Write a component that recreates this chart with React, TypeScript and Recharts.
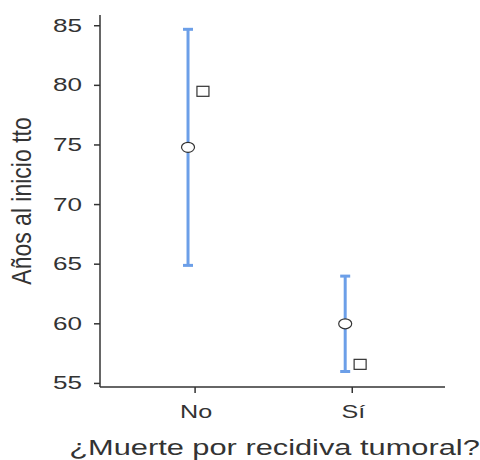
import { ComposedChart, Scatter, ErrorBar, XAxis, YAxis } from 'recharts';

// Años al inicio del tratamiento según muerte por recidiva tumoral
const groups = ['No', 'Sí'];
const meanValues = [74.8, 60.0];
const lowerValues = [64.9, 56.0];
const upperValues = [84.7, 64.0];
const squareValues = [79.5, 56.6];
const yTicks = [55, 60, 65, 70, 75, 80, 85];

const INK = '#333333';
const BLUE = '#6c9fe8';
const FONT = '"Liberation Sans", Arial, sans-serif';

const meanData = groups.map((g, i) => ({
  x: i + 1 - 0.045,
  y: meanValues[i],
  err: [meanValues[i] - lowerValues[i], upperValues[i] - meanValues[i]],
}));
const squareData = groups.map((g, i) => ({ x: i + 1 + 0.05, y: squareValues[i] }));

function YTick({ x, y, payload }: any) {
  return (
    <g transform={`translate(${x - 10},${y})`}>
      <text transform="scale(1.45,1)" textAnchor="end" dominantBaseline="central" fill={INK} fontSize={18} fontFamily={FONT}>
        {payload.value}
      </text>
    </g>
  );
}

function XTick({ x, y, payload }: any) {
  return (
    <g transform={`translate(${x + 1},${y + 17})`}>
      <text transform="scale(1.4,1)" textAnchor="middle" dominantBaseline="central" fill={INK} fontSize={18} fontFamily={FONT}>
        {groups[payload.value - 1]}
      </text>
    </g>
  );
}

const circle = ({ cx, cy }: any) => (
  <ellipse cx={cx} cy={cy} rx={6.5} ry={5} fill="#fff" stroke={INK} strokeWidth={1.2} />
);
const square = ({ cx, cy }: any) => (
  <rect x={cx - 6} y={cy - 5} width={12} height={10} fill="#fff" stroke={INK} strokeWidth={1.2} />
);

export default function App() {
  return (
    <div style={{ position: 'absolute', left: 0, top: 0, width: 480, height: 460, background: '#fff' }}>
      <ComposedChart width={480} height={460} margin={{ top: 15, right: 35, left: 0, bottom: 0 }}>
        <XAxis
          type="number"
          dataKey="x"
          domain={[0.395, 2.59]}
          ticks={[1, 2]}
          allowDataOverflow
          height={73}
          stroke={INK}
          strokeWidth={1.5}
          tickSize={6}
          tick={<XTick />}
          label={{
            content: ({ viewBox }: any) => (
              <g transform={`translate(${viewBox.x + viewBox.width / 2 + 2},${viewBox.y + 61})`}>
                <text transform="scale(1.4,1)" textAnchor="middle" dominantBaseline="central" fill={INK} fontSize={22} fontFamily={FONT}>
                  ¿Muerte por recidiva tumoral?
                </text>
              </g>
            ),
          }}
        />
        <YAxis
          type="number"
          dataKey="y"
          domain={[54.7, 85.9]}
          ticks={yTicks}
          allowDataOverflow
          width={100}
          stroke={INK}
          strokeWidth={1.5}
          tickSize={6}
          tick={<YTick />}
          label={{
            content: ({ viewBox }: any) => (
              <g transform={`translate(21,${viewBox.y + viewBox.height / 2}) rotate(-90)`}>
                <text transform="scale(1,1.2)" textAnchor="middle" dominantBaseline="central" fill={INK} fontSize={23} fontFamily={FONT}>
                  Años al inicio tto
                </text>
              </g>
            ),
          }}
        />
        <Scatter data={meanData} shape={circle} isAnimationActive={false}>
          <ErrorBar dataKey="err" direction="y" width={5} stroke={BLUE} strokeWidth={3} />
        </Scatter>
        <Scatter data={squareData} shape={square} isAnimationActive={false} />
      </ComposedChart>
    </div>
  );
}
